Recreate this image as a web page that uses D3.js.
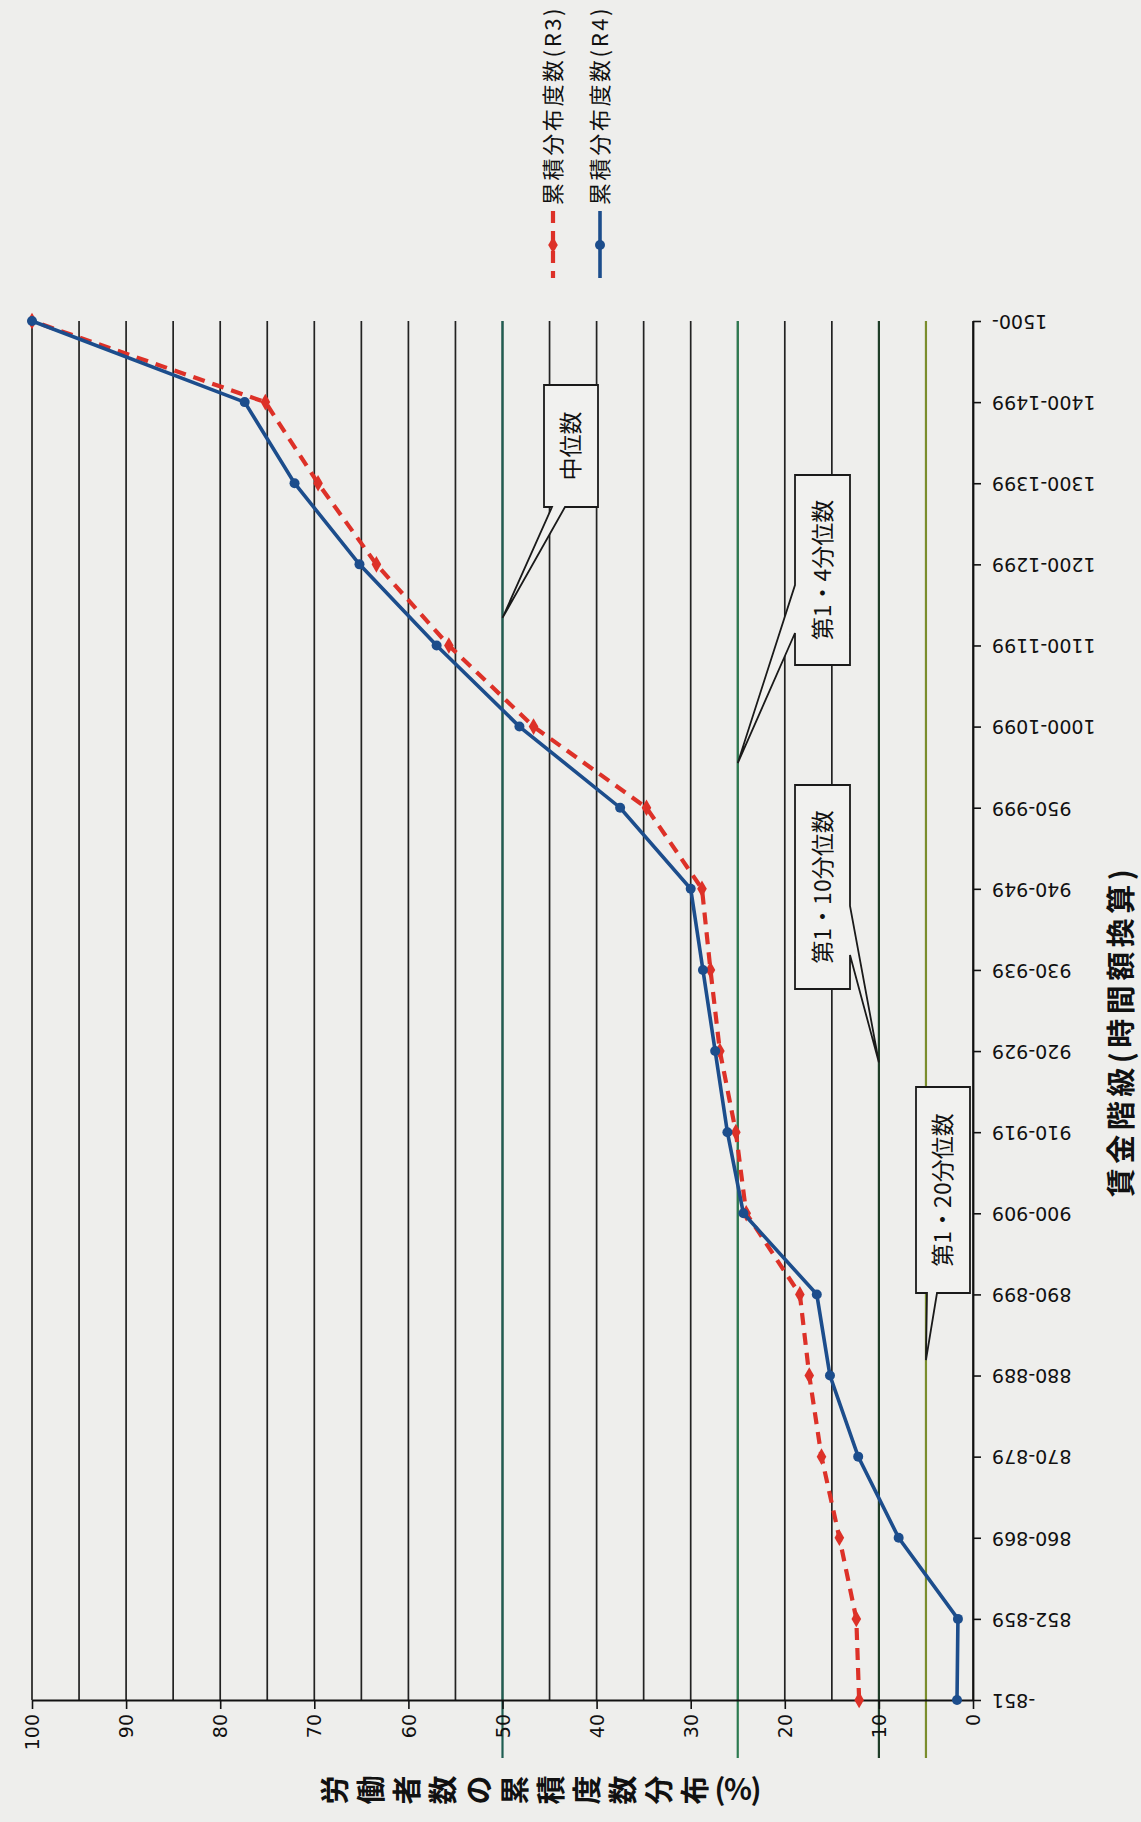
<!DOCTYPE html>
<html><head><meta charset="utf-8">
<script src="https://cdn.jsdelivr.net/npm/d3@7/dist/d3.min.js"></script>
<style>body{margin:0;background:#eeeeec;} svg{display:block}</style>
</head><body>
<svg id="c" width="1141" height="1822"></svg>
<script>
// ---- data ----
const categories = ["-851","852-859","860-869","870-879","880-889","890-899","900-909","910-919","920-929","930-939","940-949","950-999","1000-1099","1100-1199","1200-1299","1300-1399","1400-1499","1500-"];
const seriesR3 = [12.1,12.4,14.2,16.1,17.4,18.4,24.1,25.2,26.9,27.9,28.8,34.7,46.7,55.7,63.4,69.6,75.2,100];
const seriesR4 = [1.7,1.6,7.9,12.2,15.2,16.6,24.4,26.1,27.4,28.7,30.0,37.5,48.2,57.0,65.2,72.1,77.4,100];
const seriesNames = ["累積分布度数(R3)","累積分布度数(R4)"];
const valueTicks = [0,10,20,30,40,50,60,70,80,90,100];
const gridValues = [0,5,10,15,20,25,30,35,40,45,50,55,60,65,70,75,80,85,90,95,100];
const xTitle = "賃金階級(時間額換算)";
const yTitle = "労働者数の累積度数分布(%)";
const markerValues = [50,25,10,5];
const calloutLabels = ["中位数","第1・4分位数","第1・10分位数","第1・20分位数"];

// ---- layout ----
const svg = d3.select("#c");
const W = 1141, H = 1822;
const plotTop = 321, plotBottom = 1700, plotLeft = 32, plotRight = 973;
svg.append("rect").attr("width",W).attr("height",H).attr("fill","#eeeeec");

const x = d3.scaleLinear().domain([0,100]).range([plotRight, plotLeft]);
const y = d3.scalePoint().domain(categories).range([plotBottom, plotTop]);
const yi = d3.scaleLinear().domain([0, categories.length-1]).range([plotBottom, plotTop]);

const cjk = "'Noto Sans CJK JP','Noto Sans',sans-serif";
const num = "'DejaVu Sans','Noto Sans',sans-serif";

// grid lines
svg.append("g").selectAll("line").data(gridValues).join("line")
  .attr("x1", d=>x(d)).attr("x2", d=>x(d))
  .attr("y1", plotTop).attr("y2", plotBottom)
  .attr("stroke","#222").attr("stroke-width",1.7);

// highlighted quantile lines
const markerColors = ["#1f5e52","#2c7a50","#1f3d28","#7a8d2c"];
svg.append("g").selectAll("line").data(markerValues).join("line")
  .attr("x1", d=>x(d)).attr("x2", d=>x(d))
  .attr("y1", plotTop).attr("y2", 1758)
  .attr("stroke",(d,i)=>markerColors[i]).attr("stroke-width",2.2);

// value axis (bottom)
const gx = svg.append("g").attr("transform",`translate(0,${plotBottom})`)
  .call(d3.axisBottom(x).tickValues(valueTicks).tickSize(9).tickSizeOuter(0).tickFormat(d3.format("d")));
gx.select(".domain").attr("stroke","#111").attr("stroke-width",1.8);
gx.selectAll(".tick line").attr("stroke","#111").attr("stroke-width",1.6);
gx.selectAll(".tick text")
  .attr("transform","rotate(-90)")
  .attr("x",-14).attr("y",0).attr("dy","0.35em")
  .style("text-anchor","end")
  .attr("font-family",num).attr("font-size",19).attr("fill","#111");

// category axis (right)
const gy = svg.append("g").attr("transform",`translate(${plotRight},0)`)
  .call(d3.axisRight(y).tickSize(8).tickSizeOuter(0));
gy.select(".domain").attr("stroke","#111").attr("stroke-width",1.8);
gy.selectAll(".tick line").attr("stroke","#111").attr("stroke-width",1.6);
gy.selectAll(".tick text")
  .attr("transform","rotate(180)")
  .attr("x",-19).attr("y",0).attr("dy","0.35em")
  .style("text-anchor","end")
  .attr("font-family",num).attr("font-size",19).attr("fill","#111");

// series
const line = d3.line().x(d=>x(d.v)).y(d=>y(d.c));
const r3 = categories.map((c,i)=>({c, v: seriesR3[i]}));
const r4 = categories.map((c,i)=>({c, v: seriesR4[i]}));
const red = "#dd3128", blue = "#1c4d8c";

svg.append("path").datum(r3).attr("d",line).attr("fill","none")
  .attr("stroke",red).attr("stroke-width",4.2).attr("stroke-dasharray","12,8");
svg.append("g").selectAll("path").data(r3).join("path")
  .attr("transform",d=>`translate(${x(d.v)},${y(d.c)})`)
  .attr("d", d3.symbol(d3.symbolDiamond, 80)).attr("fill",red);

svg.append("path").datum(r4).attr("d",line).attr("fill","none")
  .attr("stroke",blue).attr("stroke-width",3.6);
svg.append("g").selectAll("circle").data(r4).join("circle")
  .attr("cx",d=>x(d.v)).attr("cy",d=>y(d.c)).attr("r",5).attr("fill",blue);

// callouts
const callLayout = [
  {box:[544,385,598,507], side:"bottom", base:[552,565], tipIdx:13.34},
  {box:[795,475,850,665], side:"left",   base:[585,633], tipIdx:11.55},
  {box:[795,785,850,989], side:"right",  base:[906,955], tipIdx:7.86},
  {box:[916,1087,970,1293], side:"bottom", base:[927,937], tipIdx:4.19}
];
function calloutPath(L, tip){
  const [x0,y0,x1,y1] = L.box, [a,b] = L.base;
  let p;
  if (L.side==="bottom") p = [[x0,y0],[x1,y0],[x1,y1],[b,y1],tip,[a,y1],[x0,y1]];
  else if (L.side==="left") p = [[x0,y0],[x1,y0],[x1,y1],[x0,y1],[x0,b],tip,[x0,a]];
  else p = [[x0,y0],[x1,y0],[x1,a],tip,[x1,b],[x1,y1],[x0,y1]];
  return "M" + p.map(q=>q.join(",")).join("L") + "Z";
}
const cg = svg.append("g");
calloutLabels.forEach((t,i)=>{
  const L = callLayout[i];
  const tip = [x(markerValues[i]), yi(L.tipIdx)];
  cg.append("path").attr("d",calloutPath(L,tip))
    .attr("fill","#f1f1ef").attr("stroke","#1a1a1a").attr("stroke-width",1.8).attr("stroke-linejoin","miter");
  const cx = (L.box[0]+L.box[2])/2, cy = (L.box[1]+L.box[3])/2;
  cg.append("text").attr("transform",`translate(${cx},${cy}) rotate(-90)`)
    .attr("text-anchor","middle").attr("dy","0.36em")
    .attr("font-family",cjk).attr("font-size",23).attr("fill","#111").text(t);
});

// legend
const lg = svg.append("g");
const legX = [553, 600];
seriesNames.forEach((n,i)=>{
  const gx0 = legX[i];
  const col = i===0 ? red : blue;
  lg.append("line").attr("x1",gx0).attr("x2",gx0).attr("y1",211).attr("y2",278)
    .attr("stroke",col).attr("stroke-width",i===0?4.2:3.6)
    .attr("stroke-dasharray", i===0 ? "12,8" : null);
  if (i===0) lg.append("path").attr("transform",`translate(${gx0},245)`).attr("d",d3.symbol(d3.symbolDiamond,80)).attr("fill",col);
  else lg.append("circle").attr("cx",gx0).attr("cy",245).attr("r",5).attr("fill",col);
  lg.append("text").attr("transform",`translate(${gx0},205) rotate(-90)`)
    .attr("text-anchor","start").attr("dy","0.36em")
    .attr("font-family",cjk).attr("font-size",22).attr("letter-spacing",2.6).attr("fill","#111").text(n);
});

// right axis title (categories)
svg.append("text").attr("transform","translate(1122,1031) rotate(-90)")
  .attr("text-anchor","middle").attr("dy","0.36em")
  .attr("font-family",cjk).attr("font-weight","bold").attr("font-size",29).attr("letter-spacing",4.5).attr("fill","#111")
  .text(xTitle);

// bottom axis title (stacked: CJK characters rotated, symbols upright)
const chars = Array.from(yTitle);
const half = c => c.charCodeAt(0) > 255 ? 18 : (c === "%" ? 12 : 6);
let cx0 = 336;
const charPos = chars.map((c,i)=>{
  if (i>0) cx0 += half(chars[i-1]) + half(c);
  return cx0;
});
svg.append("g").selectAll("text").data(chars).join("text")
  .attr("transform",(d,i)=>`translate(${charPos[i]},1790)` + (d.charCodeAt(0) > 255 ? " rotate(-90)" : ""))
  .attr("text-anchor","middle").attr("dy","0.36em")
  .attr("font-family",cjk).attr("font-weight","bold").attr("font-size",29).attr("fill","#111")
  .text(d=>d);
</script>
</body></html>
